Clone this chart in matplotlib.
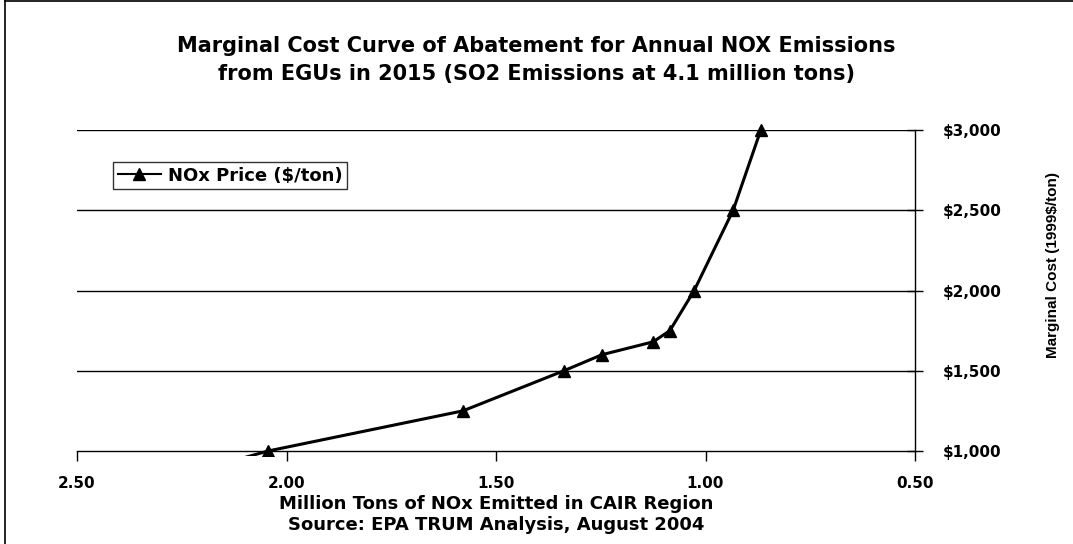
import matplotlib.pyplot as plt
import matplotlib.patches as patches
from matplotlib.lines import Line2D
from matplotlib.ticker import FuncFormatter

# data
nox_emitted = [2.25, 2.044, 1.579, 1.338, 1.247, 1.125, 1.085, 1.027, 0.934, 0.868]
nox_price = [850, 1000, 1250, 1500, 1600, 1680, 1750, 2000, 2500, 3000]
x_ticks = [2.50, 2.00, 1.50, 1.00, 0.50]
y_ticks = [1000, 1500, 2000, 2500, 3000]

plt.rcParams['font.family'] = ['DejaVu Sans']

fig = plt.figure(figsize=(10.73, 5.44), dpi=100)
ax = fig.add_axes([77 / 1073, 1 - 451 / 544, 838 / 1073, 321 / 544])

# grid lines across the plot
for y in y_ticks[1:]:
    ax.axhline(y, color='black', linewidth=1.0, zorder=1)

line, = ax.plot(nox_emitted, nox_price, color='black', linewidth=2.2,
                marker='^', markersize=9, markerfacecolor='black',
                markeredgecolor='black', zorder=3, label='NOx Price ($/ton)')
# Excel lets the line run slightly past the bottom axis
clip = patches.Rectangle((0, -0.015), 1, 1.05, transform=ax.transAxes,
                         facecolor='none', edgecolor='none')
ax.add_patch(clip)
line.set_clip_path(clip)

ax.set_xlim(2.5, 0.5)
ax.set_ylim(1000, 3000)
ax.set_xticks(x_ticks)
ax.set_yticks(y_ticks)
ax.xaxis.set_major_formatter(FuncFormatter(lambda v, p: f'{v:.2f}'))
ax.yaxis.set_major_formatter(FuncFormatter(lambda v, p: f'${v:,.0f}'))
ax.yaxis.tick_right()

for s in ['top', 'left']:
    ax.spines[s].set_visible(False)
ax.spines['right'].set_linewidth(1.0)
ax.spines['bottom'].set_linewidth(1.0)

ax.tick_params(axis='x', direction='out', length=7, width=1, pad=11,
               labelsize=11)
ax.tick_params(axis='y', direction='inout', length=12, width=1, pad=14,
               labelsize=11)
for lab in ax.get_xticklabels() + ax.get_yticklabels():
    lab.set_fontweight('bold')

ax.set_xlabel('Million Tons of NOx Emitted in CAIR Region\n'
              'Source: EPA TRUM Analysis, August 2004',
              fontsize=13, fontweight='bold', labelpad=3, linespacing=1.2)
ax.text(1.165, 0.58, 'Marginal Cost (1999$/ton)', transform=ax.transAxes,
        rotation=90, ha='center', va='center', fontsize=11,
        fontweight='bold', family='Liberation Sans')

fig.text(0.5, 1 - 60 / 544,
         'Marginal Cost Curve of Abatement for Annual NOX Emissions\n'
         'from EGUs in 2015 (SO2 Emissions at 4.1 million tons)',
         ha='center', va='center', fontsize=15, fontweight='bold',
         linespacing=1.45)

handle = Line2D([], [], color='black', linewidth=1.5, marker='^',
                markersize=8, markerfacecolor='black')
leg = ax.legend([handle], ['NOx Price ($/ton)'], loc='upper left',
                bbox_to_anchor=(0.043, 0.9), frameon=True, fancybox=False,
                edgecolor='black', borderpad=0.25, handlelength=2.4,
                handletextpad=0.4, borderaxespad=0,
                prop={'weight': 'bold', 'size': 13})
leg.get_frame().set_linewidth(1.0)

# outer chart frame (top and left edges visible in the scan)
fig.add_artist(Line2D([5 / 1073, 5 / 1073], [0, 1 - 1 / 544],
                      transform=fig.transFigure, color='black', linewidth=1.2))
fig.add_artist(Line2D([5 / 1073, 1], [1 - 1 / 544, 1 - 1 / 544],
                      transform=fig.transFigure, color='black', linewidth=1.2))

fig.savefig('out.png', dpi=100)
